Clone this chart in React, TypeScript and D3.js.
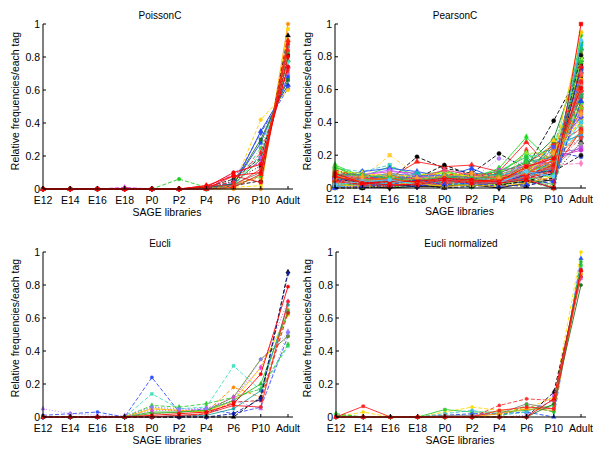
import React from "react";
import * as d3 from "d3";

const libraries = ["E12", "E14", "E16", "E18", "P0", "P2", "P4", "P6", "P10", "Adult"];
const yTickValues = [0, 0.2, 0.4, 0.6, 0.8, 1];
const yTickLabels = ["0", "0.2", "0.4", "0.6", "0.8", "1"];
const panelTitles = ["PoissonC", "PearsonC", "Eucli", "Eucli normalized"];
const xAxisTitle = "SAGE libraries";
const yAxisTitle = "Relative frequencies/each tag";

// ---------- PoissonC ----------
const poissonValues: number[][] = [
  [0, 0, 0, 0, 0, 0, 0, 0, 0, 1.0],
  [0, 0, 0, 0, 0, 0, 0, 0.01, 0.02, 0.97],
  [0, 0, 0, 0, 0, 0, 0, 0.02, 0.05, 0.93],
  [0, 0, 0, 0, 0, 0, 0, 0.03, 0.07, 0.9],
  [0, 0, 0, 0, 0, 0, 0.01, 0.03, 0.1, 0.86],
  [0, 0, 0, 0, 0, 0.06, 0.01, 0.02, 0.08, 0.83],
  [0, 0, 0, 0, 0, 0, 0, 0.05, 0.14, 0.81],
  [0, 0, 0, 0, 0, 0, 0.01, 0.03, 0.18, 0.78],
  [0, 0, 0, 0, 0, 0, 0, 0.02, 0.21, 0.77],
  [0, 0, 0, 0, 0, 0, 0.01, 0.06, 0.19, 0.74],
  [0, 0, 0, 0.005, 0, 0, 0.01, 0.1, 0.19, 0.7],
  [0, 0, 0, 0, 0, 0, 0.01, 0.03, 0.28, 0.68],
  [0, 0, 0, 0, 0, 0, 0, 0.02, 0.35, 0.63],
  [0, 0, 0, 0, 0, 0, 0.01, 0.04, 0.34, 0.61],
  [0, 0, 0, 0, 0, 0, 0, 0.02, 0.42, 0.6],
  [0, 0, 0, 0, 0, 0, 0, 0.01, 0.25, 0.74],
  [0, 0, 0, 0, 0, 0, 0.01, 0.03, 0.3, 0.66],
  [0, 0, 0, 0.01, 0, 0, 0, 0.09, 0.16, 0.74],
  [0, 0, 0, 0, 0, 0, 0.02, 0.04, 0.22, 0.72],
  [0, 0, 0, 0, 0, 0, 0.02, 0.02, 0.12, 0.84],
  [0, 0, 0, 0, 0, 0, 0.01, 0.1, 0.15, 0.74],
  [0, 0, 0, 0, 0, 0, 0, 0.08, 0.04, 0.88],
  [0, 0, 0, 0, 0, 0, 0, 0.01, 0.09, 0.9],
  [0, 0, 0, 0, 0, 0, 0.02, 0.08, 0.1, 0.8],
];
const poissonColors = [
  "#ff8c00", "#ffd700", "#000000", "#ff9900", "#808080", "#22cc22", "#000000", "#1a9a1a",
  "#40e0d0", "#222222", "#a070ff", "#2040ff", "#1030e0", "#3050ff", "#ffcc00", "#33cc66",
  "#207020", "#e040e0", "#ff2020", "#ff3030", "#ff0000", "#ee1111", "#ff2200", "#ff0000",
];
const poissonStyles = [
  "solid", "dash", "dash", "dash", "solid", "dash", "dot", "solid",
  "dash", "dash", "dot", "solid", "solid", "dash", "dash", "dashdot",
  "solid", "dash", "dashdot", "solid", "solid", "solid", "solid", "solid",
];

// ---------- PearsonC ----------
const pearsonValues: number[][] = [
  [0.1, 0.07, 0.05, 0.19, 0.12, 0.09, 0.21, 0.12, 0.41, 0.72],
  [0.04, 0.06, 0.2, 0.08, 0.05, 0.06, 0.08, 0.1, 0.2, 0.55],
  [0.08, 0.05, 0.06, 0.16, 0.13, 0.14, 0.1, 0.28, 0.1, 0.6],
  [0.14, 0.07, 0.13, 0.08, 0.1, 0.06, 0.12, 0.31, 0.15, 0.5],
  [0.06, 0.09, 0.05, 0.07, 0.08, 0.05, 0.18, 0.15, 0.12, 0.45],
  [0.09, 0.03, 0.02, 0.06, 0.14, 0.08, 0.04, 0.1, 0.1, 0.89],
  [0.12, 0.1, 0.14, 0.06, 0.09, 0.07, 0.1, 0.2, 0.18, 0.35],
  [0.07, 0.1, 0.12, 0.1, 0.07, 0.12, 0.05, 0.04, 0.15, 0.85],
  [0.13, 0.06, 0.03, 0.04, 0.11, 0.05, 0.08, 0.22, 0.03, 0.93],
  [0.02, 0.01, 0.04, 0.03, 0.06, 0.04, 0.02, 0.15, 0.25, 0.4],
  [0.05, 0.04, 0.08, 0.05, 0.06, 0.03, 0.07, 0.12, 0.2, 0.3],
  [0.03, 0.08, 0.1, 0.09, 0.04, 0.05, 0.11, 0.13, 0.16, 0.25],
  [0.01, 0.02, 0.01, 0.03, 0.02, 0.06, 0.05, 0.14, 0.3, 0.78],
  [0.06, 0.02, 0.03, 0.01, 0.04, 0.07, 0.02, 0.23, 0.05, 0.68],
  [0.02, 0.04, 0.06, 0.08, 0.03, 0.1, 0.04, 0.03, 0.22, 0.19],
  [0.0, 0.0, 0.02, 0.04, 0.03, 0.02, 0.01, 0.06, 0.1, 0.2],
  [0.03, 0.02, 0.05, 0.02, 0.01, 0.03, 0.04, 0.07, 0.0, 0.82],
  [0.08, 0.06, 0.09, 0.07, 0.05, 0.04, 0.06, 0.09, 0.27, 0.32],
  [0.04, 0.03, 0.02, 0.06, 0.08, 0.02, 0.09, 0.11, 0.14, 0.15],
  [0.1, 0.05, 0.07, 0.02, 0.01, 0.03, 0.05, 0.18, 0.24, 0.88],
  [0.05, 0.04, 0.03, 0.05, 0.07, 0.06, 0.05, 0.12, 0.2, 0.55],
  [0.03, 0.09, 0.04, 0.03, 0.02, 0.01, 0.06, 0.08, 0.12, 0.62],
  [0.02, 0.0, 0.01, 0.02, 0.05, 0.04, 0.03, 0.05, 0.08, 0.28],
  [0.07, 0.05, 0.02, 0.04, 0.06, 0.08, 0.03, 0.13, 0.0, 0.76],
  [0.01, 0.03, 0.06, 0.05, 0.03, 0.02, 0.09, 0.07, 0.21, 0.24],
  [0.05, 0.07, 0.03, 0.09, 0.04, 0.06, 0.04, 0.16, 0.26, 0.66],
  [0.04, 0.05, 0.07, 0.06, 0.05, 0.05, 0.06, 0.1, 0.15, 0.72],
  [0.02, 0.03, 0.01, 0.01, 0.03, 0.02, 0.02, 0.04, 0.0, 0.58],
  [0.11, 0.06, 0.05, 0.07, 0.09, 0.04, 0.07, 0.09, 0.13, 0.31],
  [0.0, 0.01, 0.03, 0.01, 0.02, 0.03, 0.01, 0.02, 0.18, 0.95],
  [0.06, 0.05, 0.08, 0.04, 0.06, 0.09, 0.08, 0.06, 0.17, 0.47],
  [0.03, 0.02, 0.04, 0.08, 0.07, 0.05, 0.03, 0.08, 0.28, 0.42],
  [0.01, 0.04, 0.03, 0.02, 0.0, 0.01, 0.02, 0.01, 0.06, 0.8],
  [0.07, 0.08, 0.06, 0.05, 0.1, 0.07, 0.09, 0.21, 0.22, 0.7],
  [0.02, 0.01, 0.05, 0.03, 0.04, 0.02, 0.06, 0.07, 0.11, 0.35],
  [0.05, 0.02, 0.04, 0.07, 0.03, 0.05, 0.04, 0.09, 0.19, 0.23],
  [0.09, 0.04, 0.02, 0.05, 0.05, 0.06, 0.02, 0.06, 0.23, 0.63],
  [0.04, 0.06, 0.03, 0.04, 0.08, 0.03, 0.05, 0.17, 0.14, 0.53],
  [0.01, 0.02, 0.02, 0.01, 0.03, 0.04, 0.07, 0.05, 0.09, 0.74],
  [0.06, 0.04, 0.05, 0.03, 0.07, 0.08, 0.1, 0.19, 0.05, 0.85],
  [0.03, 0.05, 0.06, 0.03, 0.02, 0.06, 0.03, 0.11, 0.16, 0.48],
  [0.07, 0.03, 0.07, 0.09, 0.06, 0.04, 0.08, 0.14, 0.11, 0.58],
  [0.05, 0.03, 0.04, 0.06, 0.04, 0.05, 0.06, 0.08, 0.29, 0.38],
  [0.03, 0.01, 0.0, 0.01, 0.01, 0.02, 0.0, 0.03, 0.05, 0.67],
  [0.02, 0.06, 0.05, 0.04, 0.03, 0.07, 0.05, 0.08, 0.13, 0.27],
  [0.05, 0.03, 0.06, 0.04, 0.03, 0.05, 0.04, 0.07, 0.12, 0.57],
  [0.08, 0.04, 0.03, 0.02, 0.04, 0.03, 0.05, 0.09, 0.15, 0.69],
  [0.03, 0.06, 0.02, 0.05, 0.06, 0.04, 0.03, 0.05, 0.0, 0.71],
  [0.1, 0.09, 0.07, 0.08, 0.09, 0.07, 0.06, 0.11, 0.19, 0.42],
  [0.06, 0.02, 0.08, 0.03, 0.05, 0.02, 0.05, 0.08, 0.1, 0.64],
  [0.04, 0.05, 0.03, 0.07, 0.02, 0.05, 0.07, 0.13, 0.22, 0.37],
  [0.02, 0.03, 0.04, 0.02, 0.04, 0.06, 0.02, 0.04, 0.06, 0.75],
  [0.09, 0.06, 0.05, 0.06, 0.11, 0.08, 0.06, 0.14, 0.16, 0.5],
  [0.07, 0.02, 0.03, 0.05, 0.03, 0.01, 0.04, 0.06, 0.02, 0.83],
  [0.01, 0.05, 0.09, 0.04, 0.06, 0.05, 0.08, 0.1, 0.24, 0.33],
  [0.11, 0.07, 0.04, 0.03, 0.08, 0.09, 0.05, 0.12, 0.13, 0.56],
  [0.03, 0.01, 0.02, 0.04, 0.02, 0.03, 0.02, 0.05, 0.08, 0.79],
  [0.06, 0.08, 0.11, 0.07, 0.05, 0.06, 0.04, 0.09, 0.2, 0.44],
  [0.04, 0.03, 0.06, 0.03, 0.07, 0.04, 0.06, 0.11, 0.17, 0.6],
  [0.08, 0.05, 0.04, 0.09, 0.04, 0.07, 0.03, 0.07, 0.0, 0.87],
  [0.02, 0.07, 0.05, 0.06, 0.03, 0.08, 0.09, 0.15, 0.26, 0.36],
  [0.05, 0.04, 0.02, 0.01, 0.05, 0.02, 0.03, 0.08, 0.11, 0.73],
  [0.13, 0.05, 0.06, 0.05, 0.07, 0.05, 0.06, 0.1, 0.14, 0.52],
  [0.03, 0.04, 0.07, 0.05, 0.04, 0.03, 0.05, 0.12, 0.23, 0.46],
  [0.06, 0.03, 0.01, 0.02, 0.06, 0.04, 0.02, 0.04, 0.09, 0.81],
  [0.07, 0.06, 0.05, 0.04, 0.02, 0.06, 0.07, 0.09, 0.12, 0.59],
  [0.01, 0.02, 0.03, 0.03, 0.04, 0.02, 0.04, 0.06, 0.18, 0.4],
  [0.09, 0.07, 0.08, 0.06, 0.06, 0.05, 0.08, 0.13, 0.21, 0.49],
  [0.04, 0.06, 0.04, 0.02, 0.03, 0.04, 0.03, 0.07, 0.05, 0.7],
  [0.06, 0.04, 0.05, 0.07, 0.08, 0.06, 0.05, 0.11, 0.25, 0.43],
  [0.02, 0.01, 0.02, 0.03, 0.01, 0.02, 0.01, 0.03, 0.07, 0.66],
  [0.08, 0.08, 0.06, 0.04, 0.07, 0.05, 0.09, 0.16, 0.19, 0.56],
  [0.05, 0.02, 0.04, 0.05, 0.04, 0.03, 0.06, 0.08, 0.14, 0.74],
  [0.03, 0.05, 0.03, 0.06, 0.05, 0.07, 0.04, 0.1, 0.0, 0.62],
  [0.07, 0.04, 0.06, 0.03, 0.05, 0.04, 0.05, 0.09, 0.17, 0.34],
  [0.04, 0.02, 0.01, 0.03, 0.05, 0.04, 0.04, 0.06, 0.1, 0.65],
  [0.12, 0.08, 0.06, 0.05, 0.08, 0.06, 0.07, 0.16, 0.08, 0.77],
  [0.0, 0.01, 0.02, 0.05, 0.02, 0.03, 0.01, 0.02, 0.04, 0.53],
  [0.06, 0.07, 0.09, 0.06, 0.07, 0.09, 0.06, 0.12, 0.21, 0.45],
  [0.07, 0.03, 0.04, 0.04, 0.06, 0.05, 0.04, 0.13, 0.18, 0.61],
  [0.02, 0.04, 0.05, 0.02, 0.05, 0.03, 0.03, 0.1, 0.07, 0.9],
  [0.09, 0.03, 0.02, 0.02, 0.05, 0.03, 0.03, 0.05, 0.0, 1.0],
];
const pearsonColors = [
  "#000000", "#ffcc33", "#ff2020", "#22dd22", "#b080ff", "#000000", "#40d0c0", "#2050ff",
  "#22cc22", "#ff8800", "#808080", "#e040e0", "#107a30", "#ff3030", "#2040ee", "#111111",
  "#ffdd00", "#20a0a0", "#ff80c0", "#33dd33", "#ff2222", "#4060ff", "#000000", "#ff9900",
  "#a060ff", "#40e0e0", "#707070", "#22bb22", "#ff3333", "#ffcc00", "#3050ff", "#0a7a20",
  "#222222", "#88ee22", "#ff1111", "#d030d0", "#ff8800", "#30b0a0", "#1040ff", "#22cc33",
  "#ff4040", "#9060ff", "#ffd000", "#000000", "#909090",
  "#33dd55", "#ff6600", "#2060ff", "#ffee00", "#ff2020", "#66cc99", "#000000", "#ff4080",
  "#44aa44", "#3399ff", "#ff3300", "#99ff33", "#c060ff", "#ffaa00", "#00bbbb", "#ff2222",
  "#2233cc", "#55dd22", "#ff7700", "#111111", "#ee3333", "#33ccff", "#88cc00", "#ff5555",
  "#5050ff", "#ffbb00", "#22aa66", "#ff1010", "#aaaaaa", "#ee6600",
  "#ff2020", "#33cc33", "#2040ff", "#ffa030", "#ff0000", "#50d0ff", "#ff0000",
];
const styleCycle = ["solid", "dash", "solid", "dot", "dash", "solid", "dashdot", "solid", "dash"];
const pearsonStyles = pearsonValues.map((_, i) => styleCycle[(i * 5 + 1) % styleCycle.length]);
pearsonStyles[0] = "dash";
pearsonStyles[pearsonStyles.length - 1] = "solid";

// ---------- Eucli ----------
const eucliValues: number[][] = [
  [0.01, 0.02, 0.03, 0, 0.24, 0.03, 0.05, 0.02, 0.06, 0.49],
  [0, 0, 0, 0, 0.14, 0.05, 0.06, 0.31, 0.16, 0.43],
  [0.05, 0.02, 0.01, 0.01, 0.06, 0.04, 0.05, 0.1, 0.05, 0.52],
  [0, 0, 0, 0, 0.07, 0.06, 0.08, 0.12, 0.17, 0.44],
  [0, 0, 0, 0, 0.02, 0.03, 0.04, 0.12, 0.35, 0.49],
  [0, 0, 0, 0, 0.05, 0.04, 0.03, 0.18, 0.12, 0.65],
  [0, 0, 0, 0, 0.05, 0.04, 0.03, 0.1, 0.3, 0.62],
  [0, 0, 0, 0, 0.03, 0.03, 0.04, 0.1, 0.2, 0.64],
  [0, 0, 0, 0, 0.04, 0.04, 0.05, 0.12, 0.3, 0.7],
  [0, 0, 0, 0, 0.06, 0.05, 0.05, 0.1, 0.35, 0.51],
  [0, 0, 0, 0, 0, 0.01, 0.01, 0.05, 0.16, 0.68],
  [0, 0, 0, 0, 0, 0, 0.02, 0.09, 0.1, 0.63],
  [0, 0, 0, 0, 0, 0, 0, 0, 0.12, 0.88],
  [0, 0, 0, 0, 0, 0, 0, 0.02, 0.11, 0.87],
  [0, 0, 0, 0, 0, 0.01, 0.02, 0.07, 0.06, 0.7],
  [0, 0, 0, 0, 0.01, 0.02, 0.03, 0.08, 0.26, 0.79],
];
const eucliColors = [
  "#3050ff", "#40e0c0", "#b080ff", "#33cc33", "#6b8e23", "#ff8800", "#ffd000", "#22bb22",
  "#e040e0", "#8080ff", "#20a0a0", "#cc2222", "#000000", "#1020a0", "#ff2020", "#ff0000",
];
const eucliStyles = [
  "dash", "dash", "dot", "dash", "solid", "dash", "solid", "solid",
  "dot", "dot", "solid", "dash", "dash", "dash", "solid", "solid",
];

// ---------- Eucli normalized ----------
const eucliNormValues: number[][] = [
  [0, 0.03, 0, 0, 0.03, 0.06, 0.04, 0.05, 0.12, 1.0],
  [0.01, 0, 0, 0, 0.045, 0.03, 0.03, 0.04, 0.07, 0.92],
  [0, 0, 0, 0, 0.01, 0.02, 0.02, 0.03, 0, 0.96],
  [0, 0, 0, 0, 0, 0, 0, 0, 0.15, 0.85],
  [0, 0, 0, 0, 0.02, 0.04, 0.01, 0.03, 0.1, 0.9],
  [0, 0, 0, 0, 0.01, 0.01, 0.02, 0.08, 0.05, 0.88],
  [0, 0, 0, 0, 0, 0, 0, 0.01, 0.13, 0.84],
  [0, 0, 0, 0, 0, 0, 0.02, 0.05, 0.04, 0.87],
  [0.02, 0, 0, 0, 0, 0, 0, 0.07, 0.03, 0.94],
  [0, 0, 0, 0, 0, 0, 0, 0, 0.08, 0.8],
  [0, 0, 0, 0, 0, 0, 0.07, 0.11, 0.1, 0.85],
  [0, 0.065, 0, 0, 0, 0, 0.04, 0.06, 0.05, 0.89],
  [0, 0, 0, 0, 0, 0, 0, 0, 0.11, 0.89],
];
const eucliNormColors = [
  "#ffdd00", "#33cc33", "#2050ff", "#000000", "#40c0d0", "#808080", "#b060ff", "#ff9900",
  "#22bb22", "#207020", "#ff3030", "#ff2020", "#ff0000",
];
const eucliNormStyles = [
  "dash", "solid", "dash", "dash", "dash", "solid", "dot", "solid",
  "dash", "solid", "dash", "solid", "solid",
];

const markerTypes = [
  d3.symbolCircle, d3.symbolSquare, d3.symbolTriangle, d3.symbolDiamond, d3.symbolCircle,
];

const dashFor = (s: string) =>
  s === "dash" ? "4,2" : s === "dot" ? "1,2" : s === "dashdot" ? "4,2,1,2" : undefined;

const panelData = [
  { values: poissonValues, colors: poissonColors, styles: poissonStyles, marker: 10 },
  { values: pearsonValues, colors: pearsonColors, styles: pearsonStyles, marker: 13 },
  { values: eucliValues, colors: eucliColors, styles: eucliStyles, marker: 8 },
  { values: eucliNormValues, colors: eucliNormColors, styles: eucliNormStyles, marker: 8 },
];

const layout = [
  { x0: 43, x1: 288, y0: 189, y1: 24, titleX: 160, yLabelX: 15, yLabelY: 101 },
  { x0: 335, x1: 581, y0: 188, y1: 24, titleX: 455, yLabelX: 307, yLabelY: 101 },
  { x0: 43, x1: 288, y0: 417, y1: 252, titleX: 160, yLabelX: 15, yLabelY: 328 },
  { x0: 336, x1: 581, y0: 417, y1: 252, titleX: 461, yLabelX: 307, yLabelY: 328 },
];

const FONT = "'Liberation Sans', Arial, Helvetica, sans-serif";

function Panel({ idx }: { idx: number }) {
  const L = layout[idx];
  const D = panelData[idx];
  const x = d3.scalePoint<string>().domain(libraries).range([L.x0, L.x1]);
  const xEnd = L.x1 + 5;
  const y = d3.scaleLinear().domain([0, 1]).range([L.y0, L.y1]);
  const line = d3
    .line<number>()
    .x((_, i) => x(libraries[i]) as number)
    .y((v) => y(v));
  const xMid = (L.x0 + xEnd) / 2;
  return (
    <g fontFamily={FONT} fontSize={10.5} fill="#000">
      <text x={L.titleX} y={L.y1 - 5} textAnchor="middle" fontSize={10}>
        {panelTitles[idx]}
      </text>
      <text
        transform={`translate(${L.yLabelX},${L.yLabelY}) rotate(-90)`}
        textAnchor="middle"
        dy="0.35em"
      >
        {yAxisTitle}
      </text>
      <text x={xMid - 1} y={L.y0 + 27} textAnchor="middle">
        {xAxisTitle}
      </text>
      {D.values.map((vals, si) => {
        const color = D.colors[si % D.colors.length];
        const sym = d3.symbol().type(markerTypes[si % markerTypes.length]).size(D.marker);
        const p = sym() as string;
        return (
          <g key={si}>
            <path
              d={line(vals) as string}
              fill="none"
              stroke={color}
              strokeWidth={0.9}
              strokeDasharray={dashFor(D.styles[si])}
            />
            {vals.map((v, i) => (
              <path
                key={i}
                d={p}
                transform={`translate(${x(libraries[i])},${y(v)})`}
                fill={color}
                stroke={color}
                strokeWidth={0.5}
              />
            ))}
          </g>
        );
      })}
      <line x1={L.x0} x2={L.x0} y1={L.y0} y2={L.y1} stroke="#000" strokeWidth={1} />
      <line x1={L.x0} x2={xEnd} y1={L.y0} y2={L.y0} stroke="#000" strokeWidth={1} />
      {yTickValues.map((t, i) => (
        <g key={i}>
          <line x1={L.x0} x2={L.x0 + 3} y1={y(t)} y2={y(t)} stroke="#000" />
          <text x={L.x0 - 3} y={y(t)} textAnchor="end" dy="0.35em">
            {yTickLabels[i]}
          </text>
        </g>
      ))}
      {libraries.map((lab) => (
        <g key={lab}>
          <line x1={x(lab)} x2={x(lab)} y1={L.y0} y2={L.y0 - 3} stroke="#000" />
          <text x={x(lab)} y={L.y0 + 15} textAnchor="middle">
            {lab}
          </text>
        </g>
      ))}
    </g>
  );
}

export default function App() {
  return (
    <svg
      width={600}
      height={455}
      style={{ position: "absolute", left: 0, top: 0, background: "#fff" }}
    >
      <rect width={600} height={455} fill="#fff" />
      {[0, 1, 2, 3].map((i) => (
        <Panel key={i} idx={i} />
      ))}
    </svg>
  );
}
